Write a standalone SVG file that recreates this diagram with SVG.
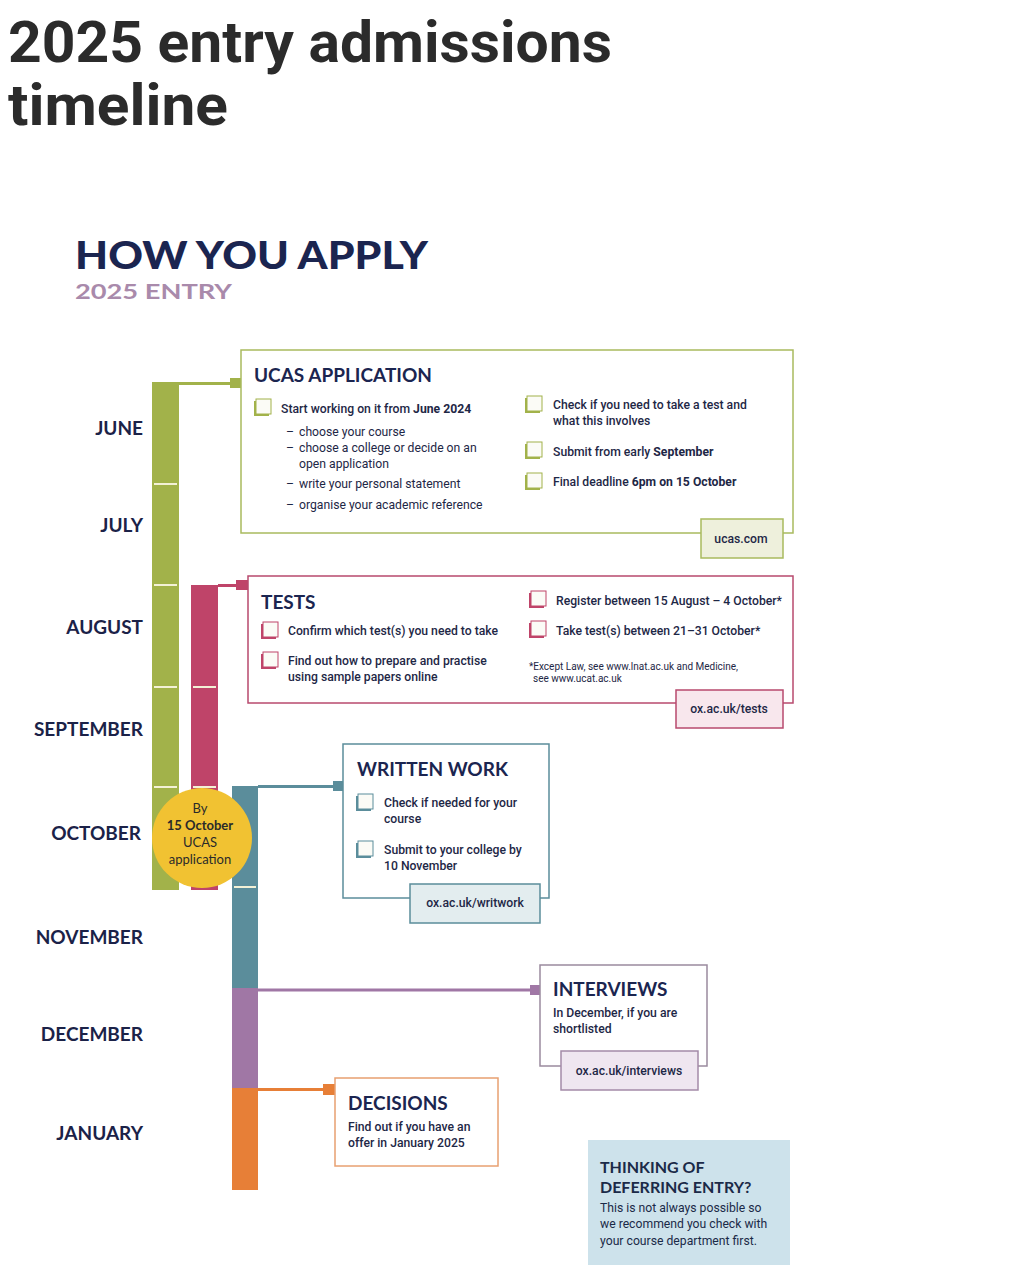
<svg xmlns="http://www.w3.org/2000/svg" width="1009" height="1286" viewBox="0 0 1009 1286">
<style>
.title{font-family:Roboto,"Liberation Sans",sans-serif;font-weight:700;font-size:58px;fill:#2b2b2b}
.h1{font-family:Lato,"Liberation Sans",sans-serif;font-weight:900;font-size:38px;fill:#1b2550}
.h2{font-family:Lato,"Liberation Sans",sans-serif;font-weight:700;font-size:21px;fill:#a98aab}
.month{font-family:Lato,"Liberation Sans",sans-serif;font-weight:700;font-size:19px;fill:#1b2248;text-anchor:end}
.bh{font-family:Lato,"Liberation Sans",sans-serif;font-weight:700;font-size:19px;fill:#1b2550}
.t{font-family:Roboto,"Liberation Sans",sans-serif;font-weight:500;font-size:12.2px;fill:#1e2746}
.tr{font-family:Roboto,"Liberation Sans",sans-serif;font-weight:400;font-size:12.2px;fill:#1e2746}
.b{font-weight:700}
.sm{font-family:Roboto,"Liberation Sans",sans-serif;font-weight:400;font-size:10px;fill:#1e2746}
.tab{font-family:Roboto,"Liberation Sans",sans-serif;font-weight:500;font-size:12.2px;fill:#1e2746;text-anchor:middle}
.tick{stroke:#f3f1d6;stroke-width:2}
.box{fill:#ffffff;stroke-width:1.5}
.cb-front{fill:#fbfbf6;stroke-width:1}
.def{font-family:Lato,"Liberation Sans",sans-serif;font-weight:700;font-size:16px;fill:#1b2a48}
.dt{font-family:Roboto,"Liberation Sans",sans-serif;font-weight:400;font-size:12.2px;fill:#1b2a48}
.circ{font-family:Lato,"Liberation Sans",sans-serif;font-size:13px;fill:#2a2a2a;text-anchor:middle}
</style>
<rect width="1009" height="1286" fill="#ffffff"/>

<g id="title">
<text class="title" x="8" y="62" textLength="604" lengthAdjust="spacingAndGlyphs">2025 entry admissions</text>
<text class="title" x="8" y="125" textLength="220" lengthAdjust="spacingAndGlyphs">timeline</text>
</g>
<g id="heading">
<text class="h1" x="75" y="269" textLength="353" lengthAdjust="spacingAndGlyphs">HOW YOU APPLY</text>
<text class="h2" x="75" y="299" textLength="157" lengthAdjust="spacingAndGlyphs">2025 ENTRY</text>
</g>

<g id="months">
<text class="month" x="143" y="435">JUNE</text>
<text class="month" x="143" y="532">JULY</text>
<text class="month" x="143" y="634">AUGUST</text>
<text class="month" x="143" y="736">SEPTEMBER</text>
<text class="month" x="141" y="840">OCTOBER</text>
<text class="month" x="143" y="944">NOVEMBER</text>
<text class="month" x="143" y="1041">DECEMBER</text>
<text class="month" x="143" y="1140">JANUARY</text>
</g>

<g id="bars">
<rect x="152" y="382" width="27" height="508" fill="#a2b24a"/>
<line class="tick" x1="154" y1="484" x2="177" y2="484"/>
<line class="tick" x1="154" y1="585" x2="177" y2="585"/>
<line class="tick" x1="154" y1="687" x2="177" y2="687"/>
<line class="tick" x1="154" y1="787" x2="177" y2="787"/>
<rect x="191" y="585" width="27" height="305" fill="#bf4469"/>
<line class="tick" x1="193" y1="687" x2="216" y2="687"/>
<line class="tick" x1="193" y1="787" x2="216" y2="787"/>
<rect x="232" y="786" width="26" height="202" fill="#5b8d9b"/>
<line class="tick" x1="234" y1="887" x2="256" y2="887"/>
<rect x="232" y="988" width="26" height="100" fill="#a077a5"/>
<rect x="232" y="1088" width="26" height="102" fill="#e77f37"/>
</g>

<g id="connectors">
<line x1="179" y1="383.5" x2="234" y2="383.5" stroke="#a2b24a" stroke-width="3"/>
<rect x="230" y="378" width="11" height="10" fill="#a2b24a"/>
<line x1="218" y1="585.5" x2="238" y2="585.5" stroke="#bf4469" stroke-width="3"/>
<rect x="236" y="580" width="12" height="10" fill="#bf4469"/>
<line x1="258" y1="786.5" x2="335" y2="786.5" stroke="#5b8d9b" stroke-width="3"/>
<rect x="333" y="781" width="10" height="10" fill="#5b8d9b"/>
<line x1="258" y1="990" x2="532" y2="990" stroke="#a077a5" stroke-width="3"/>
<rect x="530" y="985" width="10" height="10" fill="#a077a5"/>
<line x1="258" y1="1089.5" x2="325" y2="1089.5" stroke="#e77f37" stroke-width="3"/>
<rect x="323" y="1084" width="12" height="11" fill="#e77f37"/>
</g>

<g id="deadline-circle">
<circle cx="202" cy="838" r="50" fill="#f1c232"/>
<text class="circ" x="200" y="813">By</text>
<text class="circ" x="200" y="830" font-weight="700">15 October</text>
<text class="circ" x="200" y="847">UCAS</text>
<text class="circ" x="200" y="864">application</text>
</g>

<g id="ucas">
<rect class="box" x="241" y="350" width="552" height="183" stroke="#a9ba5e"/>
<text class="bh" x="254" y="382">UCAS APPLICATION</text>
<g stroke="#a2b24a">
<rect x="254" y="401" width="15" height="15" fill="#a2b24a" stroke="none"/>
<rect class="cb-front" x="256" y="399" width="15" height="15"/>
<rect x="525" y="398" width="15" height="15" fill="#a2b24a" stroke="none"/>
<rect class="cb-front" x="527" y="396" width="15" height="15"/>
<rect x="525" y="444" width="15" height="15" fill="#a2b24a" stroke="none"/>
<rect class="cb-front" x="527" y="442" width="15" height="15"/>
<rect x="525" y="475" width="15" height="15" fill="#a2b24a" stroke="none"/>
<rect class="cb-front" x="527" y="473" width="15" height="15"/>
</g>
<text class="t" x="281" y="413">Start working on it from <tspan class="b">June 2024</tspan></text>
<text class="tr" x="286" y="436">–</text><text class="tr" x="299" y="436">choose your course</text>
<text class="tr" x="286" y="452">–</text><text class="tr" x="299" y="452">choose a college or decide on an</text>
<text class="tr" x="299" y="468">open application</text>
<text class="tr" x="286" y="488">–</text><text class="tr" x="299" y="488">write your personal statement</text>
<text class="tr" x="286" y="509">–</text><text class="tr" x="299" y="509">organise your academic reference</text>
<text class="t" x="553" y="409">Check if you need to take a test and</text>
<text class="t" x="553" y="425">what this involves</text>
<text class="t" x="553" y="456">Submit from early <tspan class="b">September</tspan></text>
<text class="t" x="553" y="486">Final deadline <tspan class="b">6pm on 15 October</tspan></text>
<rect x="701" y="519" width="82" height="39" fill="#eef0dc" stroke="#a9ba5e" stroke-width="1.5"/>
<text class="tab" x="741" y="543">ucas.com</text>
</g>

<g id="tests">
<rect class="box" x="248" y="576" width="545" height="127" stroke="#b84a6e"/>
<text class="bh" x="261" y="609">TESTS</text>
<g stroke="#bf4469">
<rect x="261" y="624" width="15" height="15" fill="#bf4469" stroke="none"/>
<rect class="cb-front" x="263" y="622" width="15" height="15"/>
<rect x="261" y="654" width="15" height="15" fill="#bf4469" stroke="none"/>
<rect class="cb-front" x="263" y="652" width="15" height="15"/>
<rect x="529" y="593" width="15" height="15" fill="#bf4469" stroke="none"/>
<rect class="cb-front" x="531" y="591" width="15" height="15"/>
<rect x="529" y="623" width="15" height="15" fill="#bf4469" stroke="none"/>
<rect class="cb-front" x="531" y="621" width="15" height="15"/>
</g>
<text class="t" x="288" y="635">Confirm which test(s) you need to take</text>
<text class="t" x="288" y="665">Find out how to prepare and practise</text>
<text class="t" x="288" y="681">using sample papers online</text>
<text class="t" x="556" y="605">Register between 15 August – 4 October*</text>
<text class="t" x="556" y="635">Take test(s) between 21–31 October*</text>
<text class="sm" x="529" y="670">*Except Law, see www.lnat.ac.uk and Medicine,</text>
<text class="sm" x="533" y="682">see www.ucat.ac.uk</text>
<rect x="676" y="690" width="107" height="38" fill="#f8e7ed" stroke="#b84a6e" stroke-width="1.5"/>
<text class="tab" x="729" y="713">ox.ac.uk/tests</text>
</g>

<g id="written-work">
<rect class="box" x="343" y="744" width="206" height="154" stroke="#5b8d9b"/>
<text class="bh" x="357" y="776">WRITTEN WORK</text>
<g stroke="#5b8d9b">
<rect x="356" y="796" width="15" height="15" fill="#5b8d9b" stroke="none"/>
<rect class="cb-front" x="358" y="794" width="15" height="15"/>
<rect x="356" y="843" width="15" height="15" fill="#5b8d9b" stroke="none"/>
<rect class="cb-front" x="358" y="841" width="15" height="15"/>
</g>
<text class="t" x="384" y="807">Check if needed for your</text>
<text class="t" x="384" y="823">course</text>
<text class="t" x="384" y="854">Submit to your college by</text>
<text class="t" x="384" y="870">10 November</text>
<rect x="410" y="884" width="130" height="39" fill="#e3edef" stroke="#5b8d9b" stroke-width="1.5"/>
<text class="tab" x="475" y="907">ox.ac.uk/writwork</text>
</g>

<g id="interviews">
<rect class="box" x="540" y="965" width="167" height="101" stroke="#9a8a9e"/>
<text class="bh" x="553" y="996">INTERVIEWS</text>
<text class="t" x="553" y="1017">In December, if you are</text>
<text class="t" x="553" y="1033">shortlisted</text>
<rect x="561" y="1051" width="137" height="39" fill="#efe6f0" stroke="#a48aa8" stroke-width="1.5"/>
<text class="tab" x="629" y="1075">ox.ac.uk/interviews</text>
</g>

<g id="decisions">
<rect class="box" x="335" y="1078" width="163" height="88" stroke="#e8a070"/>
<text class="bh" x="348" y="1110">DECISIONS</text>
<text class="t" x="348" y="1131">Find out if you have an</text>
<text class="t" x="348" y="1147">offer in January 2025</text>
</g>

<g id="deferring">
<rect x="588" y="1140" width="202" height="125" fill="#cde2eb"/>
<text class="def" x="600" y="1173">THINKING OF</text>
<text class="def" x="600" y="1193">DEFERRING ENTRY?</text>
<text class="dt" x="600" y="1212">This is not always possible so</text>
<text class="dt" x="600" y="1228">we recommend you check with</text>
<text class="dt" x="600" y="1245">your course department first.</text>
</g>
</svg>
